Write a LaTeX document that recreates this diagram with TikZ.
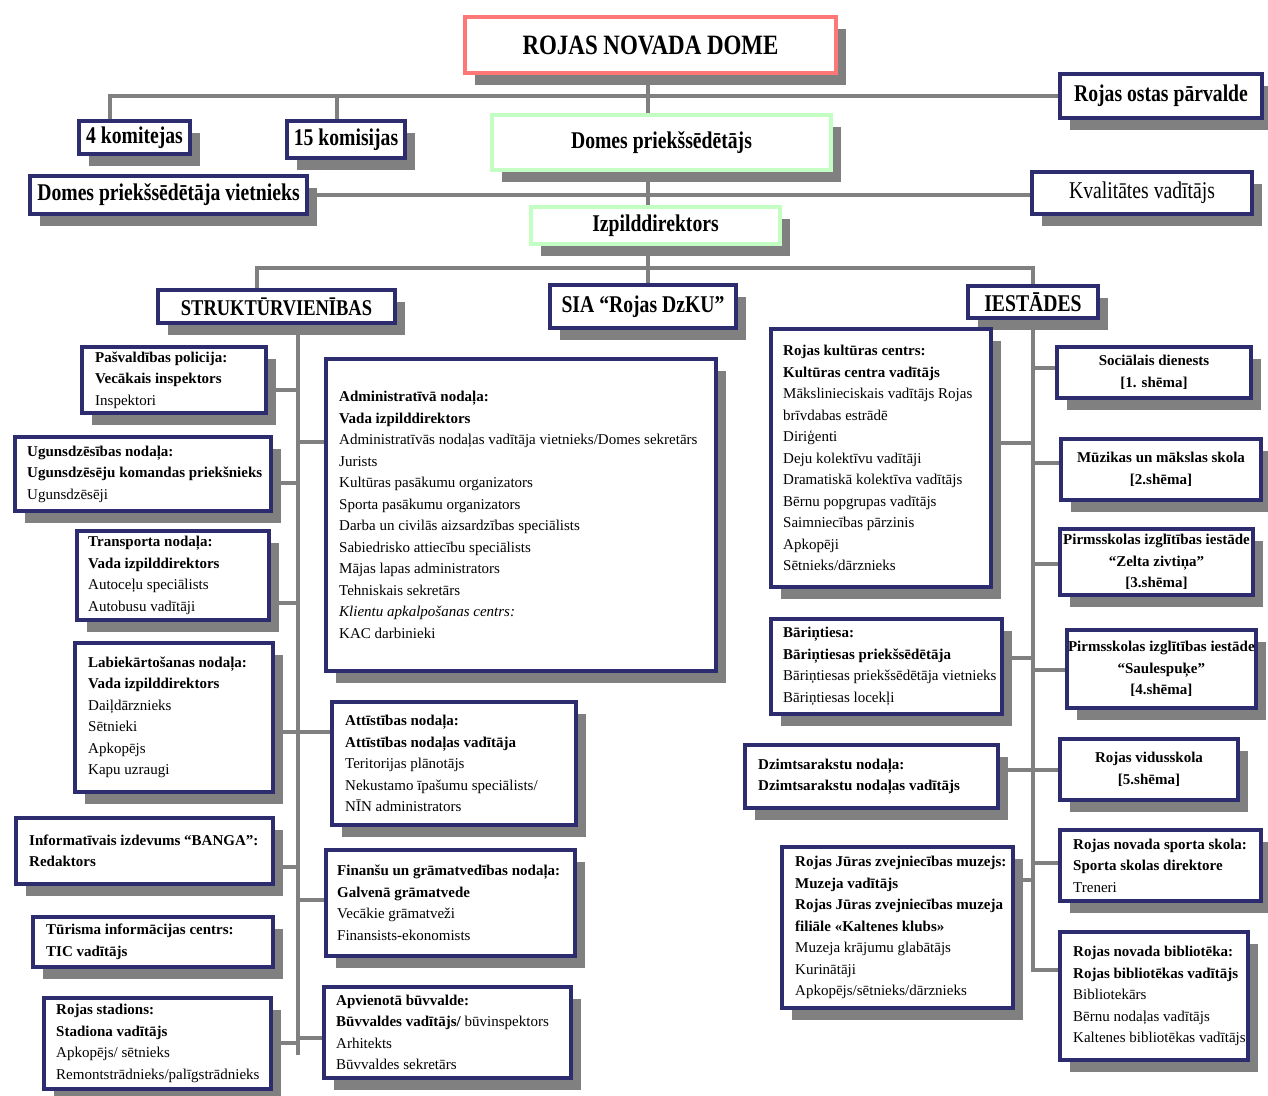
\documentclass[tikz,border=0pt]{standalone}
\usepackage{fontspec}
\setmainfont{Liberation Serif}
\newfontfamily\hdfont{Liberation Serif}[FakeStretch=0.82]
\usetikzlibrary{shadows,backgrounds,calc}
\definecolor{navy}{RGB}{44,44,110}
\definecolor{shd}{RGB}{128,128,128}
\definecolor{lnc}{RGB}{128,128,128}
\definecolor{redb}{RGB}{255,120,120}
\definecolor{grnb}{RGB}{195,255,195}
\tikzset{
  boxbase/.style={draw=navy, line width=4pt, fill=white, inner sep=1pt, outer sep=0pt,
    drop shadow={shadow xshift=10pt, shadow yshift=-12pt, fill=shd, opacity=1}},
  hd/.style={font=\hdfont\bfseries\fontsize{24}{28}\selectfont},
  bodytext/.style={font=\fontsize{15}{21.5}\selectfont, text=black},
  conn/.style={draw=lnc, line width=4pt},
}
\newcommand\BB[1]{\textbf{#1}}
\newcommand\bx[7][]{%
  \pgfmathsetmacro\mybw{#5-#3-4}\pgfmathsetmacro\mybh{#6-#4-4}%
  \node[boxbase,#1,anchor=north west,minimum width=\mybw pt,minimum height=\mybh pt] (#2) at ({#3+2},{#4+2}) {#7};}
\newcommand\lbx[7]{%
  \bx{#1}{#2}{#3}{#4}{#5}{}%
  \pgfmathsetmacro\txoff{#6-#2-2}%
  \node[bodytext,anchor=west,align=left,inner sep=0pt] (#1-t) at ([xshift=\txoff pt]#1.west) {#7};}
\begin{document}
\begin{tikzpicture}[x=1pt,y=-1pt]
\useasboundingbox (0,0) rectangle (1268,1095);

% top level
\bx[hd,draw=redb,font=\hdfont\bfseries\fontsize{28}{32}\selectfont]{dome}{463}{15}{838}{75}{ROJAS NOVADA DOME}
\bx[hd]{ostas}{1058}{72}{1264}{120}{Rojas ostas pārvalde}
\bx[hd]{kom4}{77}{119}{192}{156}{4 komitejas}
\bx[hd]{kom15}{285}{119}{407}{160}{15 komisijas}
\bx[hd,draw=grnb]{pred}{490}{113}{833}{172}{Domes priekšsēdētājs}
\bx[hd]{vietn}{28}{174}{309}{216}{Domes priekšsēdētāja vietnieks}
\bx[hd,font=\hdfont\fontsize{24}{28}\selectfont]{kval}{1030}{170}{1254}{216}{Kvalitātes vadītājs}
\bx[hd,draw=grnb]{izp}{529}{205}{782}{246}{Izpilddirektors}
\bx[hd,font=\hdfont\bfseries\fontsize{22.5}{26}\selectfont]{strukt}{156}{288}{397}{325}{STRUKTŪRVIENĪBAS}
\bx[hd]{sia}{548}{283}{738}{330}{SIA “Rojas DzKU”}
\bx[hd]{iest}{966}{284}{1100}{320}{IESTĀDES}

% left column
\lbx{pol}{80}{345}{268}{415}{95}{\BB{Pašvaldības policija:}\\\BB{Vecākais inspektors}\\Inspektori}
\lbx{ugu}{13}{435}{273}{513}{27}{\BB{Ugunsdzēsības nodaļa:}\\\BB{Ugunsdzēsēju komandas priekšnieks}\\Ugunsdzēsēji}
\lbx{tra}{75}{529}{271}{622}{88}{\BB{Transporta nodaļa:}\\\BB{Vada izpilddirektors}\\Autoceļu speciālists\\Autobusu vadītāji}
\lbx{lab}{73}{641}{275}{794}{88}{\BB{Labiekārtošanas nodaļa:}\\\BB{Vada izpilddirektors}\\Daiļdārznieks\\Sētnieki\\Apkopējs\\Kapu uzraugi}
\lbx{ban}{14}{816}{275}{886}{29}{\BB{Informatīvais izdevums “BANGA”:}\\\BB{Redaktors}}
\lbx{tur}{31}{915}{275}{969}{46}{\BB{Tūrisma informācijas centrs:}\\\BB{TIC vadītājs}}
\lbx{sta}{42}{996}{273}{1091}{56}{\BB{Rojas stadions:}\\\BB{Stadiona vadītājs}\\Apkopējs/ sētnieks\\Remontstrādnieks/palīgstrādnieks}

% centre column
\lbx{adm}{324}{357}{718}{673}{339}{\BB{Administratīvā nodaļa:}\\\BB{Vada izpilddirektors}\\Administratīvās nodaļas vadītāja vietnieks/Domes sekretārs\\Jurists\\Kultūras pasākumu organizators\\Sporta pasākumu organizators\\Darba un civilās aizsardzības speciālists\\Sabiedrisko attiecību speciālists\\Mājas lapas administrators\\Tehniskais sekretārs\\\textit{Klientu apkalpošanas centrs:}\\KAC darbinieki}
\lbx{att}{330}{700}{578}{827}{345}{\BB{Attīstības nodaļa:}\\\BB{Attīstības nodaļas vadītāja}\\Teritorijas plānotājs\\Nekustamo īpašumu speciālists/\\NĪN administrators}
\lbx{fin}{324}{848}{577}{958}{337}{\BB{Finanšu un grāmatvedības nodaļa:}\\\BB{Galvenā grāmatvede}\\Vecākie grāmatveži\\Finansists-ekonomists}
\lbx{buv}{322}{985}{573}{1080}{336}{\BB{Apvienotā būvvalde:}\\\BB{Būvvaldes vadītājs/} būvinspektors\\Arhitekts\\Būvvaldes sekretārs}

% right-centre column
\lbx{kul}{769}{327}{993}{589}{783}{\BB{Rojas kultūras centrs:}\\\BB{Kultūras centra vadītājs}\\Mākslinieciskais vadītājs Rojas\\brīvdabas estrādē\\Diriģenti\\Deju kolektīvu vadītāji\\Dramatiskā kolektīva vadītājs\\Bērnu popgrupas vadītājs\\Saimniecības pārzinis\\Apkopēji\\Sētnieks/dārznieks}
\lbx{bar}{769}{617}{1004}{716}{783}{\BB{Bāriņtiesa:}\\\BB{Bāriņtiesas priekšsēdētāja}\\Bāriņtiesas priekšsēdētāja vietnieks\\Bāriņtiesas locekļi}
\lbx{dzi}{743}{743}{1000}{810}{758}{\BB{Dzimtsarakstu nodaļa:}\\\BB{Dzimtsarakstu nodaļas vadītājs}}
\lbx{muz}{780}{845}{1015}{1010}{795}{\BB{Rojas Jūras zvejniecības muzejs:}\\\BB{Muzeja vadītājs}\\\BB{Rojas Jūras zvejniecības muzeja}\\\BB{filiāle «Kaltenes klubs»}\\Muzeja krājumu glabātājs\\Kurinātāji\\Apkopējs/sētnieks/dārznieks}

% right column
\bx[bodytext,align=center]{soc}{1055}{345}{1253}{400}{\BB{Sociālais dienests}\\\BB{[1. shēma]}}
\bx[bodytext,align=center]{mus}{1059}{437}{1263}{502}{\BB{Mūzikas un mākslas skola}\\\BB{[2.shēma]}}
\bx[bodytext,align=center]{zel}{1058}{527}{1255}{597}{\BB{Pirmsskolas izglītības iestāde}\\\BB{“Zelta zivtiņa”}\\\BB{[3.shēma]}}
\bx[bodytext,align=center]{sau}{1065}{628}{1257}{710}{\BB{Pirmsskolas izglītības iestāde}\\\BB{“Saulespuķe”}\\\BB{[4.shēma]}}
\bx[bodytext,align=center]{vid}{1058}{737}{1240}{802}{\BB{Rojas vidusskola}\\\BB{[5.shēma]}}
\lbx{spo}{1058}{828}{1263}{903}{1073}{\BB{Rojas novada sporta skola:}\\\BB{Sporta skolas direktore}\\Treneri}
\lbx{bib}{1058}{930}{1250}{1062}{1073}{\BB{Rojas novada bibliotēka:}\\\BB{Rojas bibliotēkas vadītājs}\\Bibliotekārs\\Bērnu nodaļas vadītājs\\Kaltenes bibliotēkas vadītājs}

\begin{pgfonlayer}{background}
\fill[white] (0,0) rectangle (1268,1095);
\coordinate (cx) at (648,268);
\draw[conn] (cx |- dome.south) -- (cx |- sia.north);
\draw[conn] ([xshift=31pt]kom4.north west) |- (ostas.west);
\draw[conn] ([xshift=50pt]kom15.north west) |- (ostas.west);
\draw[conn] (vietn.east) -- (vietn.east -| kval.west);
\draw[conn] ([xshift=99pt]strukt.north west) |- (cx) -| (iest.north);
% left trunk
\coordinate (L) at (298,1055);
\draw[conn] (L |- strukt.south) -- (L);
\foreach \n/\y in {pol/390, ugu/483, tra/603, lab/732, ban/867, sta/1043}
  \draw[conn] (\n.east |- 0,\y) -- (L |- 0,\y);
\foreach \n/\y in {adm/442, att/732, fin/900, buv/1038}
  \draw[conn] (L |- 0,\y) -- (\n.west |- 0,\y);
% right trunk
\coordinate (R) at (1033,970);
\draw[conn] (R |- iest.south) -- (R) -- (bib.west |- R);
\foreach \n/\y in {kul/443, bar/658, dzi/770, muz/880}
  \draw[conn] (\n.east |- 0,\y) -- (R |- 0,\y);
\foreach \n/\y in {soc/368, mus/463, zel/564, sau/670, vid/770, spo/863}
  \draw[conn] (R |- 0,\y) -- (\n.west |- 0,\y);
\end{pgfonlayer}
\end{tikzpicture}
\end{document}
